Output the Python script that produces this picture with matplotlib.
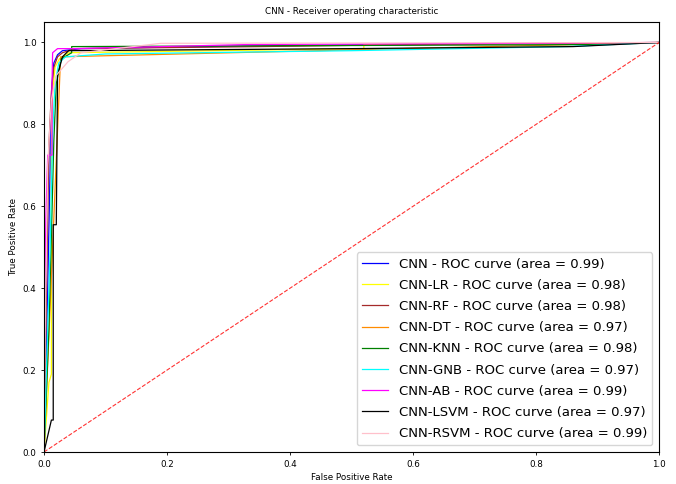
import matplotlib
matplotlib.use("Agg")
import matplotlib.pyplot as plt

# ROC points (fpr, tpr) per classifier
names = ["CNN", "CNN-LR", "CNN-RF", "CNN-DT", "CNN-KNN",
         "CNN-GNB", "CNN-AB", "CNN-LSVM", "CNN-RSVM"]
aucs = [0.99, 0.98, 0.98, 0.97, 0.98, 0.97, 0.99, 0.97, 0.99]
colors = ["blue", "yellow", "brown", "darkorange", "green",
          "cyan", "magenta", "black", "pink"]

fpr_cnn = [0, 0.002, 0.010, 0.010, 0.013, 0.016, 0.022, 0.03, 0.06, 0.25, 0.55, 1.0]
tpr_cnn = [0, 0.10, 0.70, 0.79, 0.90, 0.95, 0.97, 0.98, 0.985, 0.99, 0.995, 1.0]

fpr_lr = [0, 0.008, 0.012, 0.012, 0.014, 0.018, 0.025, 0.04, 0.52, 0.52, 1.0]
tpr_lr = [0, 0.17, 0.19, 0.72, 0.88, 0.94, 0.96, 0.975, 0.985, 0.995, 1.0]

fpr_rf = [0, 0.003, 0.008, 0.012, 0.016, 0.022, 0.03, 0.05, 0.35, 0.6, 1.0]
tpr_rf = [0, 0.30, 0.75, 0.88, 0.94, 0.965, 0.975, 0.985, 0.99, 0.995, 1.0]

fpr_dt = [0, 0.027, 1.0]
tpr_dt = [0, 0.965, 1.0]

fpr_knn = [0, 0.008, 0.016, 0.020, 0.028, 0.045, 0.045, 0.9, 1.0]
tpr_knn = [0, 0.30, 0.76, 0.90, 0.96, 0.975, 0.99, 0.995, 1.0]

fpr_gnb = [0, 0.010, 0.014, 0.018, 0.024, 0.035, 0.1, 0.5, 0.85, 1.0]
tpr_gnb = [0, 0.50, 0.78, 0.90, 0.95, 0.965, 0.972, 0.98, 0.99, 1.0]

fpr_ab = [0, 0.0, 0.003, 0.006, 0.013, 0.013, 0.014, 0.022, 0.05, 0.33, 0.75, 1.0]
tpr_ab = [0, 0.20, 0.57, 0.725, 0.725, 0.90, 0.975, 0.985, 0.985, 0.995, 0.998, 1.0]

fpr_lsvm = [0, 0.012, 0.015, 0.015, 0.02, 0.022, 0.03, 0.04, 0.5, 0.86, 1.0]
tpr_lsvm = [0, 0.078, 0.078, 0.555, 0.555, 0.92, 0.965, 0.98, 0.985, 0.99, 1.0]

fpr_rsvm = [0, 0.002, 0.006, 0.012, 0.02, 0.039, 0.06, 0.19, 1.0]
tpr_rsvm = [0, 0.30, 0.70, 0.86, 0.92, 0.953, 0.975, 0.998, 1.0]

fprs = [fpr_cnn, fpr_lr, fpr_rf, fpr_dt, fpr_knn, fpr_gnb, fpr_ab, fpr_lsvm, fpr_rsvm]
tprs = [tpr_cnn, tpr_lr, tpr_rf, tpr_dt, tpr_knn, tpr_gnb, tpr_ab, tpr_lsvm, tpr_rsvm]

fig = plt.figure(figsize=(6.76, 4.84), dpi=100)
ax = fig.add_axes([0.0651, 0.0661, 0.9098, 0.8884])

for name, auc, c, f, t in zip(names, aucs, colors, fprs, tprs):
    ax.plot(f, t, color=c, lw=0.9,
            label="%s - ROC curve (area = %0.2f)" % (name, auc))

ax.plot([0, 1], [0, 1], color="red", lw=0.8, linestyle="--", alpha=0.8)

ax.set_xlim(0.0, 1.0)
ax.set_ylim(0.0, 1.05)
ax.tick_params(labelsize=6.3, length=2, width=0.6)
ax.set_xlabel("False Positive Rate", fontsize=6.3, labelpad=3)
ax.set_ylabel("True Positive Rate", fontsize=6.3, labelpad=3)
ax.set_title("CNN - Receiver operating characteristic", fontsize=6.3, pad=6)
ax.legend(loc="lower right", fontsize=9.5, labelspacing=0.62)

fig.savefig("out.png", dpi=100)
